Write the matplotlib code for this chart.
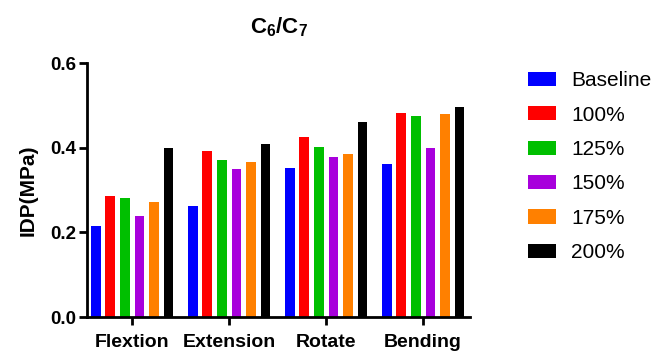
import matplotlib.pyplot as plt
from matplotlib.patches import Patch
import numpy as np

plt.rcParams['font.family'] = ['Liberation Sans', 'DejaVu Sans']
plt.rcParams['mathtext.fontset'] = 'custom'
plt.rcParams['mathtext.rm'] = 'Liberation Sans'
plt.rcParams['mathtext.bf'] = 'Liberation Sans:bold'

# data
categories = ['Flextion', 'Extension', 'Rotate', 'Bending']
series = ['Baseline', '100%', '125%', '150%', '175%', '200%']
baseline = [0.214, 0.262, 0.351, 0.362]
p100 = [0.287, 0.391, 0.426, 0.483]
p125 = [0.282, 0.371, 0.402, 0.474]
p150 = [0.238, 0.350, 0.378, 0.400]
p175 = [0.272, 0.367, 0.384, 0.479]
p200 = [0.400, 0.409, 0.460, 0.496]
colors = ['#0000FF', '#FF0000', '#00BF00', '#A800DC', '#FF8000', '#000000']

values = [baseline, p100, p125, p150, p175, p200]

fig = plt.figure(figsize=(6.54, 3.54), dpi=100)
ax = fig.add_axes([0.133, 0.1045, 0.586, 0.7175])

x = np.arange(len(categories))
pitch = 0.15
width = 0.1
for i, (vals, c) in enumerate(zip(values, colors)):
    ax.bar(x + (i - 2.5) * pitch, vals, width=width, color=c, edgecolor='none')

ax.set_ylim(0, 0.6)
ax.set_xlim(-0.465, 3.485)
ax.set_yticks([0, 0.2, 0.4, 0.6])
ax.set_yticklabels(['0.0', '0.2', '0.4', '0.6'])
ax.set_xticks(x)
ax.set_xticklabels(categories)
for lab in ax.get_xticklabels():
    lab.set_fontweight('bold')
    lab.set_fontsize(14)
for lab in ax.get_yticklabels():
    lab.set_fontweight('bold')
    lab.set_fontsize(13.5)

ax.spines['top'].set_visible(False)
ax.spines['right'].set_visible(False)
ax.spines['left'].set_linewidth(2)
ax.spines['bottom'].set_linewidth(2)
ax.tick_params(axis='y', width=2, length=6, direction='out', pad=2)
ax.tick_params(axis='x', width=2, length=6, direction='out', pad=6)

ax.set_ylabel('IDP(MPa)', fontsize=15, fontweight='bold', labelpad=9)
ax.set_title(r'$\mathbf{C_6/C_7}$', fontsize=16, pad=21)

handles = [Patch(facecolor=c, edgecolor='none') for c in colors]
fig.legend(handles, series, loc='upper left', bbox_to_anchor=(0.779, 0.852),
           frameon=False, fontsize=15, handlelength=1.35, handleheight=0.67,
           handletextpad=0.72, labelspacing=0.74)

fig.savefig('out.png', dpi=100)
